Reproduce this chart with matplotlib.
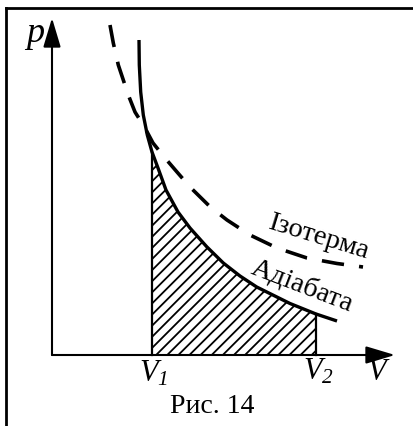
import matplotlib
matplotlib.use("Agg")
import matplotlib.pyplot as plt
from matplotlib.lines import Line2D

# adiabat (V, p in arbitrary units)
adiabat_v = [0.87, 0.873, 0.887, 0.913, 0.953, 1.00, 1.06, 1.14, 1.26, 1.38,
             1.547, 1.713, 1.88, 2.047, 2.38, 2.64, 2.85]
adiabat_p = [3.15, 2.90, 2.63, 2.40, 2.20, 2.03, 1.87, 1.65, 1.43, 1.27,
             1.083, 0.92, 0.79, 0.68, 0.515, 0.41, 0.34]

# isotherm
isotherm_v = [0.58, 0.613, 0.663, 0.763, 0.83, 0.93, 1.01, 1.13, 1.25, 1.38,
              1.58, 1.75, 1.98, 2.25, 2.55, 2.85, 3.11]
isotherm_p = [3.30, 3.12, 2.90, 2.60, 2.43, 2.27, 2.12, 1.97, 1.83, 1.68,
              1.483, 1.35, 1.20, 1.07, 0.97, 0.915, 0.88]

v1 = 1.00
v2 = 2.64
tick_labels = [r"$V_1$", r"$V_2$"]
curve_labels = ["Ізотерма", "Адіабата"]
caption = "Рис. 14"

# italic serif for everything in math mode, digits included
plt.rcParams["mathtext.fontset"] = "custom"
plt.rcParams["mathtext.rm"] = "Liberation Serif:italic"
plt.rcParams["mathtext.it"] = "Liberation Serif:italic"
plt.rcParams["hatch.linewidth"] = 1.3
serif = ["Liberation Serif", "DejaVu Serif"]

fig = plt.figure(figsize=(4.14, 4.26), dpi=100)
ax = fig.add_axes([0, 0, 1, 1])
ax.set_xlim(-0.52, 3.62)
ax.set_ylim(-0.71, 3.55)
ax.axis("off")

# frame (only top and left edge visible)
fig.add_artist(Line2D([0.0145, 1.0], [0.982, 0.982], transform=fig.transFigure,
                      color="black", lw=2.0))
fig.add_artist(Line2D([0.0145, 0.0145], [0.0, 0.982], transform=fig.transFigure,
                      color="black", lw=2.0))

# axes with arrows
arrow = dict(arrowstyle="-|>,head_length=0.9,head_width=0.27", lw=1.5,
             color="black", mutation_scale=20, shrinkA=0, shrinkB=0)
ax.annotate("", xy=(0, 3.37), xytext=(0, 0), arrowprops=arrow)
ax.annotate("", xy=(3.43, 0), xytext=(0, 0), arrowprops=arrow)

# hatched work area
sub_v = [v for v in adiabat_v if v1 <= v <= v2]
sub_p = [p for v, p in zip(adiabat_v, adiabat_p) if v1 <= v <= v2]
ax.fill_between(sub_v, 0, sub_p, hatch="///", facecolor="none",
                edgecolor="black", lw=0)
ax.plot([v1, v1], [0, sub_p[0]], color="black", lw=1.6)
ax.plot([v2, v2], [0, sub_p[-1]], color="black", lw=1.6)

ax.plot(adiabat_v, adiabat_p, color="black", lw=2.4, solid_capstyle="butt")
ax.plot(isotherm_v, isotherm_p, color="black", lw=2.6,
        linestyle=(0, (6.2, 4.2)), dash_capstyle="butt")

# labels
it = dict(family=serif, style="italic", ha="center", va="baseline")
ax.text(-0.17, 3.13, "p", fontsize=26, **it)
ax.text(3.25, -0.25, "V", fontsize=22, **it)
ax.text(v1 + 0.02, -0.27, tick_labels[0], fontsize=22, ha="center", va="baseline")
ax.text(v2 + 0.02, -0.25, tick_labels[1], fontsize=22, ha="center", va="baseline")

ax.text(2.66, 1.18, curve_labels[0], fontsize=20.5, family=serif,
        rotation=-17, ha="center", va="center", rotation_mode="anchor")
ax.text(2.50, 0.69, curve_labels[1], fontsize=20.5, family=serif,
        rotation=-21, ha="center", va="center", rotation_mode="anchor")

fig.text(0.512, 0.0305, caption, fontsize=20, family=serif,
         ha="center", va="baseline")

fig.savefig("out.png", dpi=100)
